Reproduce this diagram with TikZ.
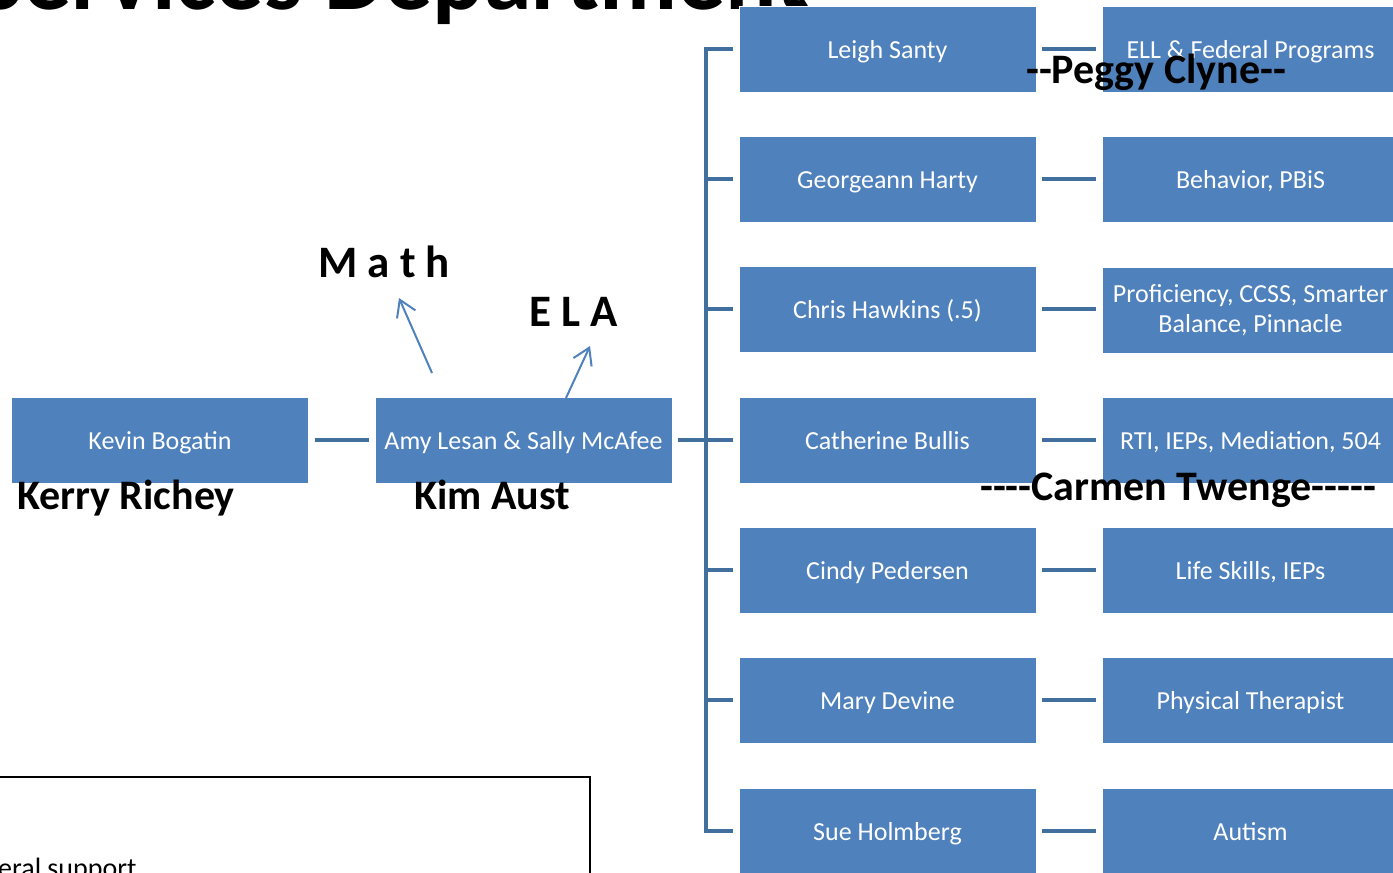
\documentclass[tikz,border=0pt]{standalone}
\usepackage{fontspec}
\setmainfont{Carlito}[Ligatures=TeXOff]
\usetikzlibrary{arrows.meta}
\definecolor{boxblue}{HTML}{4F81BD}
\definecolor{linkblue}{HTML}{41709F}
\begin{document}
\begin{tikzpicture}[x=1bp,y=-1bp,
  boxbase/.style={draw=white, line width=0.8bp, fill=boxblue, text=white,
    minimum width=297bp, minimum height=86bp, inner sep=2bp,
    font=\fontsize{26bp}{30bp}\selectfont, align=center},
  box/.style={boxbase, text height=22bp, text depth=3bp},
  link/.style={draw=linkblue, line width=4.5bp, line join=miter},
  lbl/.style={font=\fontsize{42bp}{50bp}\selectfont\bfseries, text=black, inner sep=0pt},
  subj/.style={font=\fontsize{45bp}{50bp}\selectfont\bfseries, text=black, inner sep=0pt},
  arr/.style={draw=boxblue, line width=2bp, -{Straight Barb[length=16bp,width=20bp]}}
]
\clip (0,0) rectangle (1393,872);
\fill[white] (0,0) rectangle (1393,872);

% title (cut off at top)
\node[anchor=base west, font=\fontsize{96bp}{100bp}\selectfont\bfseries, inner sep=0pt] (title) at (-22,9) {Services Department};

% bottom-left box (cut off)
\node[draw=black, line width=2bp, minimum width=600bp, minimum height=140bp, anchor=north east, inner sep=0pt] (legend) at (591,776) {};
\node[anchor=base west, font=\fontsize{28bp}{30bp}\selectfont, inner sep=0pt] (legtext) at (-2,877) {eral support};

% left chain
\node[box] (kevin) at (160,440) {Kevin Bogatin};
\node[box] (amy) at (523.5,440) {Amy Lesan \& Sally McAfee};

% middle column
\node[box] (leigh) at (887.5,49) {Leigh Santy};
\node[box] (georg) at (887.5,179) {Georgeann Harty};
\node[box] (chris) at (887.5,309) {Chris Hawkins (.5)};
\node[box] (cath) at (887.5,440) {Catherine Bullis};
\node[box] (cindy) at (887.5,570) {Cindy Pedersen};
\node[box] (mary) at (887.5,700) {Mary Devine};
\node[box] (sue) at (887.5,831) {Sue Holmberg};

% right column
\node[box] (ell) at (1250.5,49) {ELL \& Federal Programs};
\node[box] (behav) at (1250.5,179) {Behavior, PBiS};
\node[boxbase] (prof) at (1250.5,310) {Proficiency, CCSS, Smarter\\Balance, Pinnacle};
\node[box] (rti) at (1250.5,440) {RTI, IEPs, Mediation, 504};
\node[box] (life) at (1250.5,570) {Life Skills, IEPs};
\node[box] (phys) at (1250.5,700) {Physical Therapist};
\node[box] (autism) at (1250.5,831) {Autism};

% connectors
\coordinate (bx) at (706,440);
\draw[link] ([xshift=6bp]kevin.east) -- ([xshift=-6bp]amy.west);
\draw[link] ([xshift=6bp]amy.east) -- (bx);
\draw[link] ([xshift=-6bp]leigh.west) -| (bx |- sue.west) -- ([xshift=-6bp]sue.west);
\foreach \n in {georg,chris,cath,cindy,mary}
  \draw[link] (bx |- \n.west) -- ([xshift=-6bp]\n.west);
\draw[link] ([xshift=6bp]leigh.east) -- ([xshift=-6bp]ell.west);
\draw[link] ([xshift=6bp]georg.east) -- ([xshift=-6bp]behav.west);
\draw[link] ([xshift=6bp]chris.east) -- ([xshift=-6bp]chris.east -| prof.west);
\draw[link] ([xshift=6bp]cath.east) -- ([xshift=-6bp]rti.west);
\draw[link] ([xshift=6bp]cindy.east) -- ([xshift=-6bp]life.west);
\draw[link] ([xshift=6bp]mary.east) -- ([xshift=-6bp]phys.west);
\draw[link] ([xshift=6bp]sue.east) -- ([xshift=-6bp]autism.west);

% subject labels and arrows
\node[subj, anchor=base west] (math) at (318,277) {M a t h};
\node[subj, anchor=base west] (ela) at (529,326) {E L A};
\coordinate (mathfrom) at (432,373);
\coordinate (mathto) at (399,298);
\coordinate (elafrom) at (566,398);
\coordinate (elato) at (590,346);
\draw[arr] (mathfrom) -- (mathto);
\draw[arr] (elafrom) -- (elato);

% name labels
\node[lbl, anchor=base west] (kerry) at (17,509) {Kerry Richey};
\node[lbl, anchor=base west] (kim) at (414,509) {Kim Aust};
\node[lbl, anchor=base west] (peggy) at (1026,83) {--Peggy Clyne--};
\node[lbl, anchor=base west] (carmen) at (980,500) {----Carmen Twenge-----};
\end{tikzpicture}
\end{document}
